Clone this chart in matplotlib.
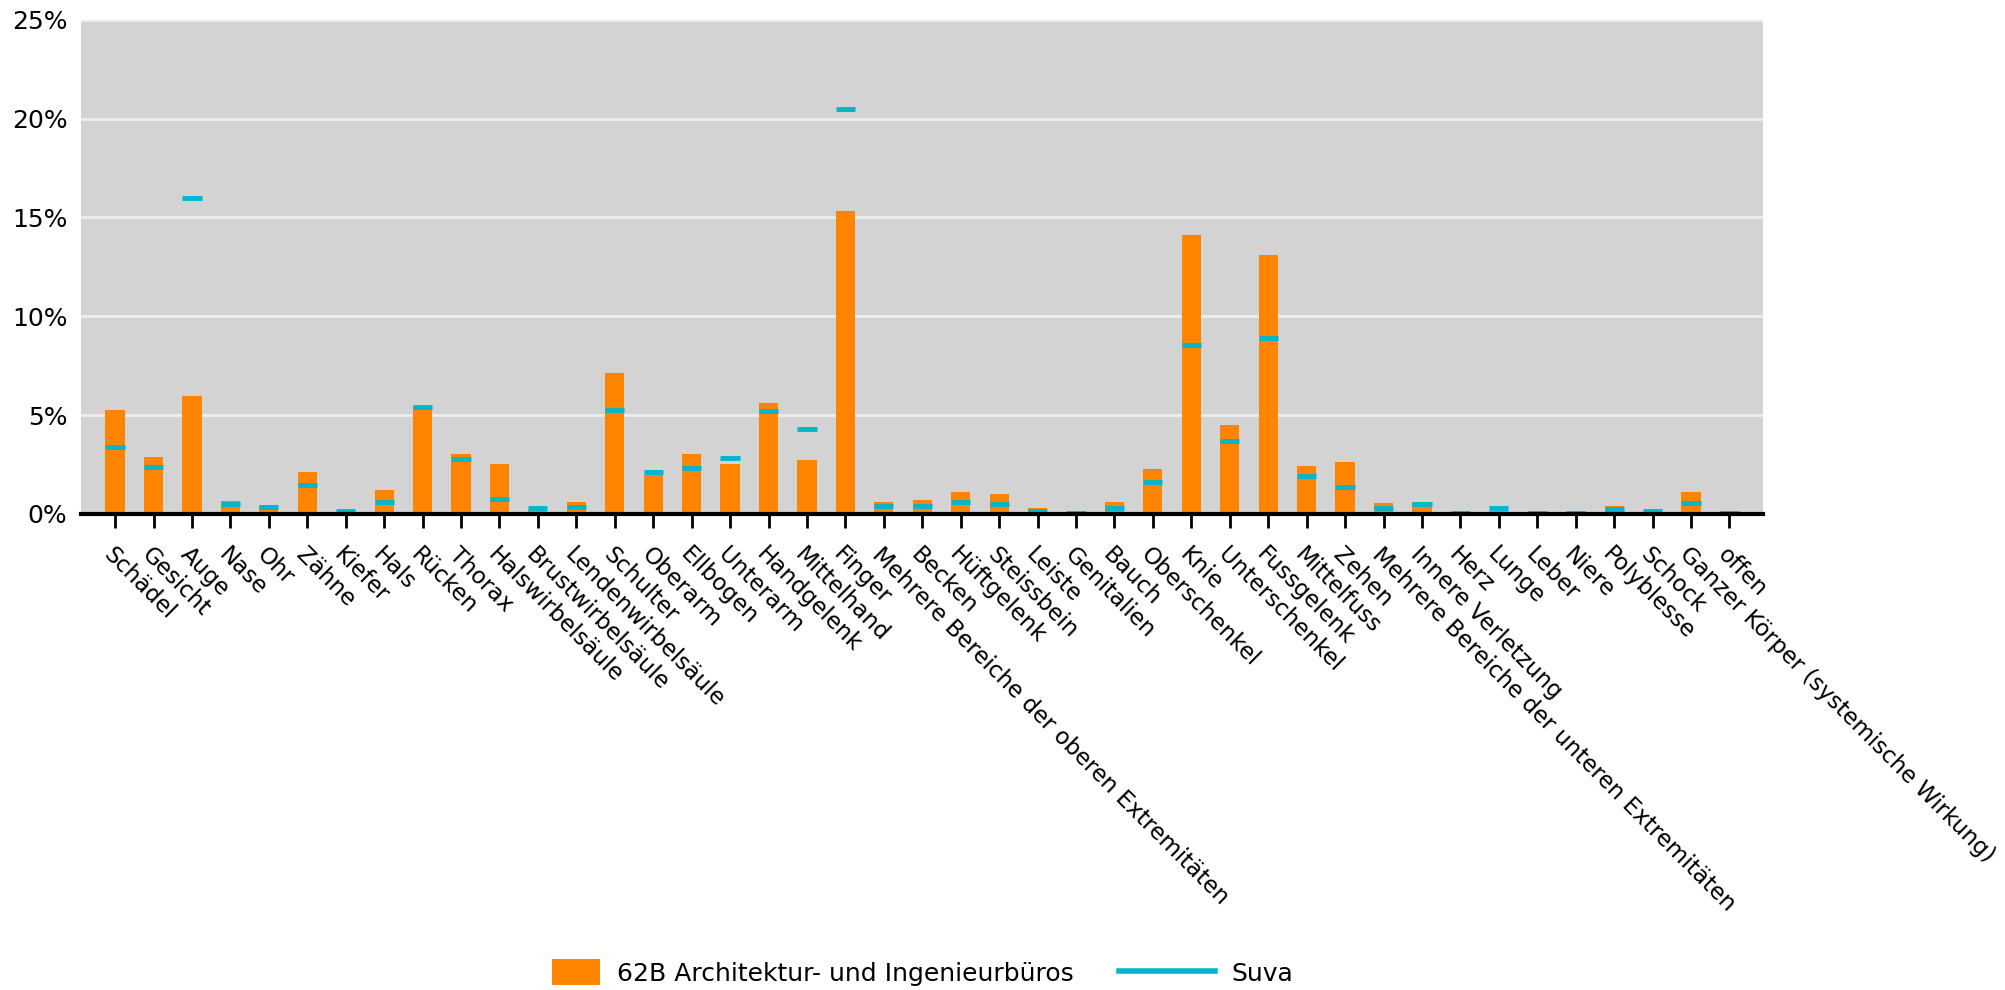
import numpy as np
import matplotlib.pyplot as plt
from matplotlib.patches import Patch, Rectangle
from matplotlib.lines import Line2D
from matplotlib.legend_handler import HandlerPatch

categories = [
    "Schädel", "Gesicht", "Auge", "Nase", "Ohr", "Zähne", "Kiefer", "Hals",
    "Rücken", "Thorax", "Halswirbelsäule", "Brustwirbelsäule",
    "Lendenwirbelsäule", "Schulter", "Oberarm", "Ellbogen", "Unterarm",
    "Handgelenk", "Mittelhand", "Finger",
    "Mehrere Bereiche der oberen Extremitäten", "Becken", "Hüftgelenk",
    "Steissbein", "Leiste", "Genitalien", "Bauch", "Oberschenkel", "Knie",
    "Unterschenkel", "Fussgelenk", "Mittelfuss", "Zehen",
    "Mehrere Bereiche der unteren Extremitäten", "Innere Verletzung", "Herz",
    "Lunge", "Leber", "Niere", "Polyblesse", "Schock",
    "Ganzer Körper (systemische Wirkung)", "offen",
]

# Anteil in % (62B Architektur- und Ingenieurbüros)
branche = [
    5.24, 2.86, 5.96, 0.64, 0.46, 2.14, 0.05, 1.19, 5.46, 3.02, 2.51, 0.2,
    0.59, 7.14, 1.95, 3.05, 2.51, 5.59, 2.71, 15.32, 0.61, 0.71, 1.10,
    1.02, 0.27, 0.0, 0.61, 2.25, 14.1, 4.50, 13.1, 2.43, 2.63, 0.55, 0.60,
    0.0, 0.13, 0.0, 0.0, 0.40, 0.0, 1.09, 0.0,
]

# Anteil in % (Suva gesamt)
suva = [
    3.37, 2.39, 15.98, 0.49, 0.36, 1.46, 0.14, 0.58, 5.39, 2.78, 0.73, 0.27,
    0.32, 5.27, 2.10, 2.32, 2.81, 5.21, 4.31, 20.47, 0.37, 0.41, 0.59,
    0.49, 0.14, 0.04, 0.29, 1.63, 8.56, 3.66, 8.88, 1.93, 1.34, 0.30, 0.52,
    0.05, 0.27, 0.05, 0.05, 0.22, 0.12, 0.57, 0.05,
]

orange = "#FF8400"
cyan = "#00B5CC"


def small_box(legend, orig_handle, xdescent, ydescent, width, height, fontsize):
    # halb so breites Kästchen, rechtsbündig vor dem Text
    h = height * 1.15
    return Rectangle((-xdescent + width * 0.5, -ydescent - (h - height) / 2),
                     width * 0.5, h)


fig = plt.figure(figsize=(20.06, 9.9), dpi=100)
ax = fig.add_axes([0.0405, 0.481, 0.8385, 0.499])

x = np.arange(len(categories))
ax.set_facecolor("#D3D3D3")
ax.bar(x, branche, width=0.5, color=orange, zorder=2)
ax.hlines(suva, x - 0.25, x + 0.25, color=cyan, linewidth=3.5, zorder=3)

ax.set_xlim(-0.88, len(categories) - 1 + 0.88)
ax.set_ylim(0, 25)
ax.set_yticks(np.arange(0, 26, 5))
ax.set_yticklabels([f"{v}%" for v in range(0, 26, 5)])
ax.yaxis.grid(True, color="#EDEDED", linewidth=2)
ax.set_axisbelow(True)

for s in ["top", "right", "left"]:
    ax.spines[s].set_visible(False)
ax.spines["bottom"].set_color("black")
ax.spines["bottom"].set_linewidth(3)
ax.spines["bottom"].set_zorder(4)

ax.set_xticks(x)
ax.set_xticklabels(categories, rotation=-45, ha="left", va="top",
                   rotation_mode="anchor", fontsize=16.6)
ax.tick_params(axis="x", length=10, width=2, color="black", pad=11)
ax.tick_params(axis="y", length=0, labelsize=18, pad=10)

handles = [Patch(facecolor=orange),
           Line2D([0], [0], color=cyan, linewidth=4)]
fig.legend(handles, ["62B Architektur- und Ingenieurbüros", "Suva"],
           loc="center", bbox_to_anchor=(0.448, 0.017), ncol=2, frameon=False,
           fontsize=18, handlelength=3.85, handleheight=1.0, handletextpad=0.66,
           columnspacing=1.8,
           handler_map={Patch: HandlerPatch(patch_func=small_box)})

fig.savefig("out.png", dpi=100)
